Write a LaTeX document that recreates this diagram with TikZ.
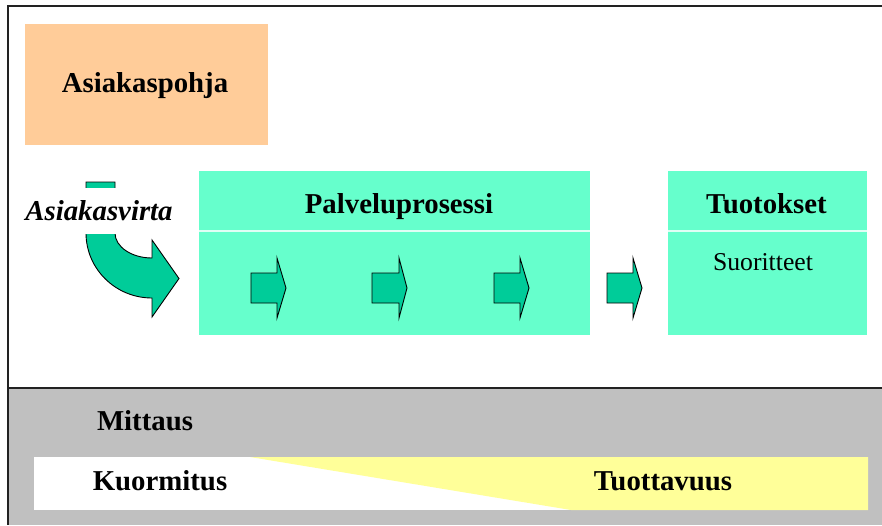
\documentclass[tikz,border=0pt]{standalone}
\usepackage{fontspec}
\setmainfont{Liberation Serif}
\definecolor{peach}{HTML}{FFCC99}
\definecolor{mint}{HTML}{66FFCC}
\definecolor{arrowgreen}{HTML}{00CC99}
\definecolor{paleyellow}{HTML}{FFFF99}
\definecolor{bandgray}{HTML}{C0C0C0}
\definecolor{framegray}{HTML}{222222}
\begin{document}
\begin{tikzpicture}[x=1pt,y=1pt,
  panel/.style={draw=none, inner sep=0pt, outer sep=0pt},
  bigtext/.style={inner sep=0pt, font=\fontsize{28.8}{34}\selectfont\bfseries, anchor=base},
  smalltext/.style={inner sep=0pt, font=\fontsize{25.7}{30}\selectfont, anchor=base},
  blockarrow/.style={fill=arrowgreen, draw=black, line width=0.9pt, line join=miter},
  divider/.style={draw=white!80!mint, line width=1.2pt},
  frameline/.style={draw=framegray, line width=2pt}
]
\useasboundingbox (0,0) rectangle (882,-525);
\fill[white] (0,0) rectangle (882,-525);

% bottom measurement band
\fill[bandgray] (8,-388) rectangle (882,-525);
\fill[white] (34,-457) rectangle (868,-510);
\fill[paleyellow] (250,-457) -- (868,-457) -- (868,-510) -- (571,-510) -- cycle;

% boxes
\node[panel, fill=peach, minimum width=243pt, minimum height=121pt] (pohja) at (146.5,-84.5) {};
\node[panel, fill=mint, minimum width=391pt, minimum height=164pt] (prosessi) at (394.5,-253) {};
\node[panel, fill=mint, minimum width=199pt, minimum height=164pt] (tuotokset) at (767.5,-253) {};
\draw[divider] (prosessi.west |- 0,-231) -- (prosessi.east |- 0,-231);
\draw[divider] (tuotokset.west |- 0,-231) -- (tuotokset.east |- 0,-231);

% curved arrow
\draw[blockarrow] (86,-182) -- (86,-233)
  arc[start angle=180, end angle=270, x radius=66, y radius=65]
  -- (152,-317) -- (179,-278.5) -- (152,-240) -- (152,-258)
  arc[start angle=270, end angle=180, x radius=37, y radius=25]
  -- (115,-182) -- cycle;
\node[fill=white, inner xsep=3pt, inner ysep=0pt, minimum height=46pt,
      font=\fontsize{28.8}{34}\selectfont\bfseries\itshape] (virta) at (99,-211) {Asiakasvirta};

% small block arrows
\foreach \l/\h/\t [count=\i] in {251/277/286, 372/399/407, 494/520/529, 607/633/642}{
  \draw[blockarrow] (\l,-273) -- (\h,-273) -- (\h,-258) -- (\t,-288) -- (\h,-318) -- (\h,-303) -- (\l,-303) -- cycle;
}

% texts
\node[bigtext] (tpohja) at (145,-92) {Asiakaspohja};
\node[bigtext] (tprosessi) at (399,-213) {Palveluprosessi};
\node[bigtext] (ttuotokset) at (766.5,-213) {Tuotokset};
\node[smalltext] (tsuor) at (763,-270) {Suoritteet};
\node[bigtext] (tmittaus) at (145,-430) {Mittaus};
\node[bigtext] (tkuorm) at (160,-490) {Kuormitus};
\node[bigtext] (ttuott) at (663,-490) {Tuottavuus};

% frame
\draw[frameline] (882,-6) -- (8,-6) -- (8,-525);
\draw[draw=framegray, line width=1.5pt] (8,-388) -- (882,-388);
\end{tikzpicture}
\end{document}
